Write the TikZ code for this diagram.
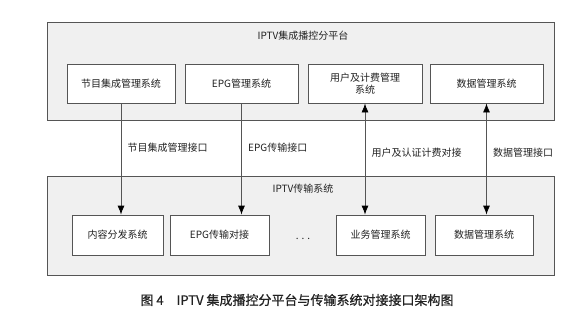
\documentclass[tikz,border=0pt]{standalone}
\usepackage{fontspec}
\newfontfamily\cjk{Noto Sans CJK SC}
\newfontfamily\capfont[FakeBold=0.7]{Noto Sans CJK SC}
\usetikzlibrary{positioning, arrows.meta}
\definecolor{panelbg}{HTML}{F0F0F0}
\definecolor{edge}{HTML}{555555}
\definecolor{ink}{HTML}{222222}

\begin{document}
\begin{tikzpicture}[x=1pt, y=-1pt, font=\cjk\fontsize{10}{12}\selectfont, text=ink,
    panel/.style={draw=edge, fill=panelbg, line width=0.8pt, inner sep=0pt},
    sysbox/.style={draw=edge, fill=white, line width=0.8pt, align=center, inner sep=0pt},
    link/.style={draw=edge, line width=0.8pt, -{Latex[length=9pt, width=7pt, color=black]}},
    duplex/.style={link, {Latex[length=9pt, width=7pt, color=black]}-{Latex[length=9pt, width=7pt, color=black]}}]
  \useasboundingbox (0,0) rectangle (584,325);
  % the two platforms
  \node[panel, minimum width=507pt, minimum height=98pt] (plat) at (300.5,71) {};
  \node[panel, minimum width=507pt, minimum height=99pt] (trans) at (300.5,225.5) {};
  \node (platT) at (303,36) {IPTV集成播控分平台};
  \node (transT) at (303,189) {IPTV传输系统};
  % systems of the broadcast platform
  \foreach \n/\x/\w/\t in {p1/121/108/节目集成管理系统, p2/241.5/113/EPG管理系统,
      p3/365/114/{用户及计费管理\\系统}, p4/486.5/113/数据管理系统} {
    \node[sysbox, minimum width=\w pt, minimum height=39pt] (\n) at (\x,83.5) {\t};
  }
  % systems of the transport side
  \foreach \n/\x/\w/\t in {t1/117.5/91/内容分发系统, t2/219.5/99/EPG传输对接,
      t3/380.5/89/业务管理系统, t4/484/98/数据管理系统} {
    \node[sysbox, minimum width=\w pt, minimum height=40pt] (\n) at (\x,235) {\t};
  }
  \node (more) at (303,239) {. . .};
  % interfaces
  \draw[link] (p1.south) -- (p1.south |- t1.north)
    node[pos=0.4, right=3pt] (i1) {节目集成管理接口};
  \draw[link] (p2.south) -- (p2.south |- t2.north)
    node[pos=0.4, right=3pt] (i2) {EPG传输接口};
  \draw[duplex] (p3.south) -- (p3.south |- t3.north)
    node[pos=0.44, right=3pt] (i3) {用户及认证计费对接};
  \draw[duplex] (p4.south) -- (p4.south |- t4.north)
    node[pos=0.44, right=3pt] (i4) {数据管理接口};
  \node[font=\capfont\fontsize{13}{15}\selectfont] (cap) at (297,300)
    {图 4\quad IPTV 集成播控分平台与传输系统对接接口架构图};
\end{tikzpicture}
\end{document}
